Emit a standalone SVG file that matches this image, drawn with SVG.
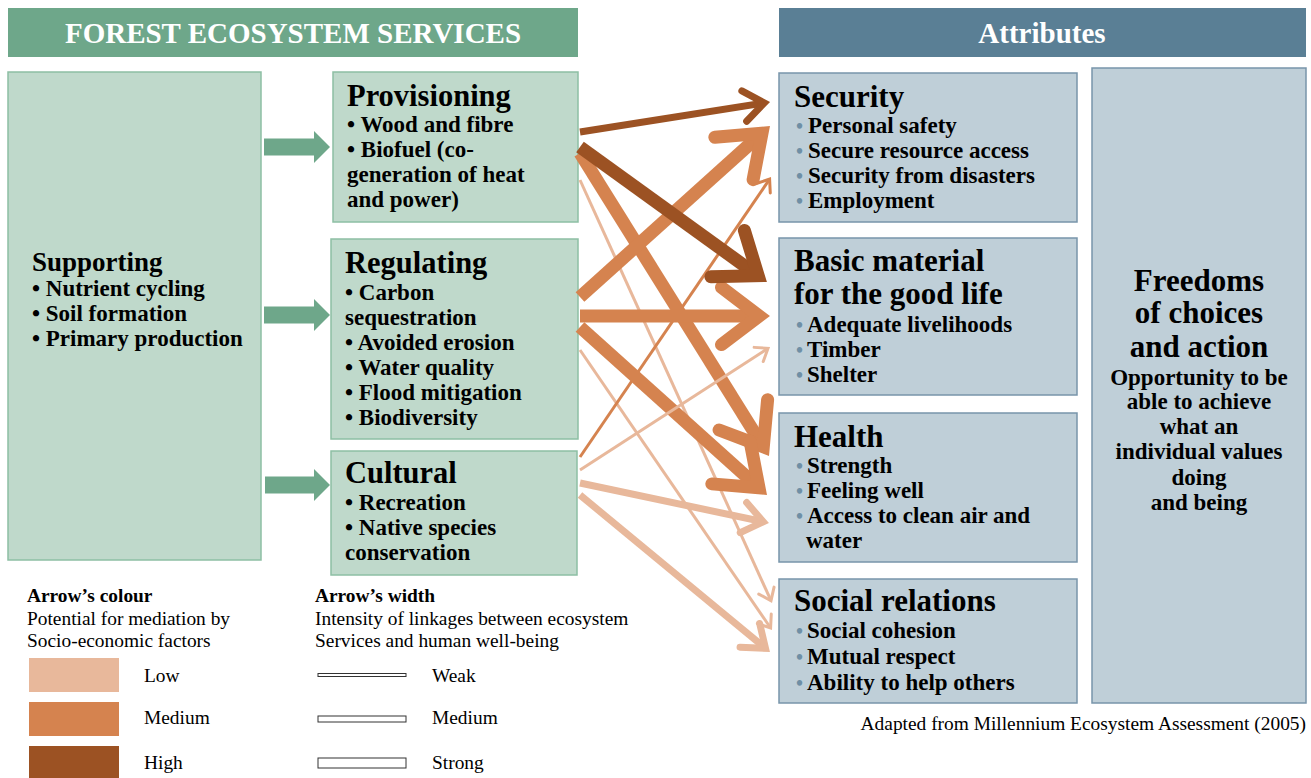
<svg xmlns="http://www.w3.org/2000/svg" width="1311" height="778" viewBox="0 0 1311 778">
<defs>
<style>
text{font-family:"Liberation Serif","Times New Roman",serif;}
.hdr{fill:#ffffff;font-weight:bold;font-size:29px;text-anchor:middle;}
.gbox{fill:#bfd9cb;stroke:#8dbfa4;stroke-width:1.5;}
.bbox{fill:#bfcfd8;stroke:#7895aa;stroke-width:1.5;}
.t30{font-weight:bold;font-size:30.5px;fill:#000;}
.t31{font-weight:bold;font-size:31px;fill:#000;}
.t27{font-weight:bold;font-size:27px;fill:#000;}
.it{font-weight:bold;font-size:23px;fill:#000;}
.bul{font-weight:bold;font-size:20px;fill:#6f8fa5;}
.ctr{text-anchor:middle;}
.leg{font-size:19.4px;fill:#000;}
.legb{font-size:19.4px;font-weight:bold;fill:#000;}
.blk{fill:#6ea78a;}
.ar{fill:none;stroke-linecap:butt;}
.high{stroke:#9c5223;}
.med{stroke:#d5834f;}
.low{stroke:#e8b89b;}
.w1{stroke-width:3;}
.w2{stroke-width:7;}
.w3{stroke-width:13;}
</style>
<marker id="mHigh" markerUnits="strokeWidth" markerWidth="6" markerHeight="6" refX="0" refY="0" orient="auto" overflow="visible">
<path d="M-2.9,-2.2 L0,0 L-2.9,2.2" fill="none" stroke="#9c5223" stroke-width="1" stroke-linecap="round" stroke-linejoin="miter"/>
</marker>
<marker id="mMed" markerUnits="strokeWidth" markerWidth="6" markerHeight="6" refX="0" refY="0" orient="auto" overflow="visible">
<path d="M-2.9,-2.2 L0,0 L-2.9,2.2" fill="none" stroke="#d5834f" stroke-width="1" stroke-linecap="round" stroke-linejoin="miter"/>
</marker>
<marker id="mLow" markerUnits="strokeWidth" markerWidth="6" markerHeight="6" refX="0" refY="0" orient="auto" overflow="visible">
<path d="M-2.9,-2.2 L0,0 L-2.9,2.2" fill="none" stroke="#e8b89b" stroke-width="1" stroke-linecap="round" stroke-linejoin="miter"/>
</marker>
<marker id="mMedThin" markerUnits="strokeWidth" markerWidth="6" markerHeight="6" refX="0" refY="0" orient="auto" overflow="visible">
<path d="M-3.7,-2.8 L0,0 L-3.7,2.8" fill="none" stroke="#d5834f" stroke-width="1" stroke-linecap="round" stroke-linejoin="miter"/>
</marker>
<marker id="mLowThin" markerUnits="strokeWidth" markerWidth="6" markerHeight="6" refX="0" refY="0" orient="auto" overflow="visible">
<path d="M-3.7,-2.8 L0,0 L-3.7,2.8" fill="none" stroke="#e8b89b" stroke-width="1" stroke-linecap="round" stroke-linejoin="miter"/>
</marker>
</defs>

<rect width="1311" height="778" fill="#ffffff"/>

<g id="header-services">
<rect x="8" y="8" width="570" height="49" fill="#6ea78a"/>
<text class="hdr" x="293" y="43">FOREST ECOSYSTEM SERVICES</text>
</g>
<g id="header-attributes">
<rect x="779" y="8" width="527" height="49" fill="#5a7f95"/>
<text class="hdr" x="1042" y="43">Attributes</text>
</g>

<g id="supporting">
<rect class="gbox" x="8" y="72" width="253" height="488"/>
<text class="t27" x="32" y="271">Supporting</text>
<text class="it" x="32" y="296">• Nutrient cycling</text>
<text class="it" x="32" y="321">• Soil formation</text>
<text class="it" x="32" y="346">• Primary production</text>
</g>

<g id="provisioning">
<rect class="gbox" x="333" y="72" width="245" height="150"/>
<text class="t30" x="347" y="106">Provisioning</text>
<text class="it" x="347" y="132">• Wood and fibre</text>
<text class="it" x="347" y="157">• Biofuel (co-</text>
<text class="it" x="347" y="182">generation of heat</text>
<text class="it" x="347" y="207">and power)</text>
</g>

<g id="regulating">
<rect class="gbox" x="331" y="239" width="247" height="200"/>
<text class="t30" x="345" y="273">Regulating</text>
<text class="it" x="345" y="300">• Carbon</text>
<text class="it" x="345" y="325">sequestration</text>
<text class="it" x="345" y="350">• Avoided erosion</text>
<text class="it" x="345" y="375">• Water quality</text>
<text class="it" x="345" y="400">• Flood mitigation</text>
<text class="it" x="345" y="425">• Biodiversity</text>
</g>

<g id="cultural">
<rect class="gbox" x="331" y="451" width="246" height="124"/>
<text class="t30" x="345" y="483">Cultural</text>
<text class="it" x="345" y="510">• Recreation</text>
<text class="it" x="345" y="535">• Native species</text>
<text class="it" x="345" y="560">conservation</text>
</g>

<g id="security">
<rect class="bbox" x="779" y="73" width="298" height="149"/>
<text class="t31" x="794" y="107">Security</text>
<text class="bul" x="796" y="133">•</text><text class="it" x="808" y="133">Personal safety</text>
<text class="bul" x="796" y="158">•</text><text class="it" x="808" y="158">Secure resource access</text>
<text class="bul" x="796" y="183">•</text><text class="it" x="808" y="183">Security from disasters</text>
<text class="bul" x="796" y="208">•</text><text class="it" x="808" y="208">Employment</text>
</g>

<g id="basic-material">
<rect class="bbox" x="779" y="238" width="298" height="157"/>
<text class="t31" x="794" y="271">Basic material</text>
<text class="t31" x="794" y="304">for the good life</text>
<text class="bul" x="796" y="332">•</text><text class="it" x="807" y="332">Adequate livelihoods</text>
<text class="bul" x="796" y="357">•</text><text class="it" x="807" y="357">Timber</text>
<text class="bul" x="796" y="382">•</text><text class="it" x="807" y="382">Shelter</text>
</g>

<g id="health">
<rect class="bbox" x="779" y="413" width="298" height="149"/>
<text class="t31" x="794" y="447">Health</text>
<text class="bul" x="796" y="473">•</text><text class="it" x="807" y="473">Strength</text>
<text class="bul" x="796" y="498">•</text><text class="it" x="807" y="498">Feeling well</text>
<text class="bul" x="796" y="523">•</text><text class="it" x="807" y="523">Access to clean air and</text>
<text class="it" x="806" y="548">water</text>
</g>

<g id="social-relations">
<rect class="bbox" x="779" y="579" width="298" height="124"/>
<text class="t31" x="794" y="611">Social relations</text>
<text class="bul" x="796" y="638">•</text><text class="it" x="807" y="638">Social cohesion</text>
<text class="bul" x="796" y="664">•</text><text class="it" x="807" y="664">Mutual respect</text>
<text class="bul" x="796" y="690">•</text><text class="it" x="807" y="690">Ability to help others</text>
</g>

<g id="freedoms">
<rect class="bbox" x="1092" y="68" width="214" height="635"/>
<text class="t31 ctr" x="1199" y="291">Freedoms</text>
<text class="t31 ctr" x="1199" y="323">of choices</text>
<text class="t31 ctr" x="1199" y="357">and action</text>
<text class="it ctr" x="1199" y="385">Opportunity to be</text>
<text class="it ctr" x="1199" y="409">able to achieve</text>
<text class="it ctr" x="1199" y="434">what an</text>
<text class="it ctr" x="1199" y="459">individual values</text>
<text class="it ctr" x="1199" y="485">doing</text>
<text class="it ctr" x="1199" y="510">and being</text>
</g>

<g id="connectors">
<path class="blk" d="M264,138.5 H314 V131 L330,147 L314,163 V155.5 H264 Z"/>
<path class="blk" d="M264,306.5 H314 V299 L330,315 L314,331 V323.5 H264 Z"/>
<path class="blk" d="M265,476.5 H314 V469 L330,485 L314,501 V493.5 H265 Z"/>

<line class="ar low w1" x1="580" y1="180" x2="771" y2="600.7" marker-end="url(#mLowThin)"/>
<line class="ar low w1" x1="580" y1="350" x2="770.6" y2="628" marker-end="url(#mLowThin)"/>
<line class="ar med w1" x1="580" y1="457" x2="769.6" y2="179.1" marker-end="url(#mMedThin)"/>
<line class="ar low w2" x1="580" y1="483" x2="763.3" y2="521.8" marker-end="url(#mLow)"/>
<line class="ar low w2" x1="580" y1="495" x2="765.5" y2="648.3" marker-end="url(#mLow)"/>
<line class="ar med w3" x1="580" y1="153" x2="763.3" y2="446.8" marker-end="url(#mMed)"/>
<line class="ar med w3" x1="580" y1="327" x2="759" y2="487.8" marker-end="url(#mMed)"/>
<line class="ar low w1" x1="580" y1="470" x2="768" y2="348.4" marker-end="url(#mLowThin)"/>
<line class="ar med w3" x1="580" y1="316" x2="759.2" y2="316" marker-end="url(#mMed)"/>
<line class="ar med w3" x1="580" y1="297" x2="762" y2="133.2" marker-end="url(#mMed)"/>
<line class="ar high w3" x1="580" y1="147" x2="758.2" y2="275.7" marker-end="url(#mHigh)"/>
<line class="ar high w2" x1="580" y1="132" x2="764.3" y2="102.9" marker-end="url(#mHigh)"/>
</g>

<g id="legend">
<text class="legb" x="27" y="602">Arrow’s colour</text>
<text class="leg" x="27" y="625">Potential for mediation by</text>
<text class="leg" x="27" y="647">Socio-economic factors</text>
<rect x="29" y="658" width="90" height="34" fill="#e8b89b"/>
<rect x="29" y="702" width="90" height="34" fill="#d5834f"/>
<rect x="29" y="746" width="90" height="32" fill="#9c5223"/>
<text class="leg" x="144" y="682">Low</text>
<text class="leg" x="144" y="724">Medium</text>
<text class="leg" x="144" y="769">High</text>

<text class="legb" x="315" y="602">Arrow’s width</text>
<text class="leg" x="315" y="625">Intensity of linkages between ecosystem</text>
<text class="leg" x="315" y="647">Services and human well-being</text>
<rect x="318" y="673.5" width="88" height="3" fill="#ffffff" stroke="#333" stroke-width="1"/>
<rect x="318" y="716" width="88" height="6" fill="#ffffff" stroke="#333" stroke-width="1"/>
<rect x="318" y="758" width="88" height="10" fill="#ffffff" stroke="#333" stroke-width="1"/>
<text class="leg" x="432" y="682">Weak</text>
<text class="leg" x="432" y="724">Medium</text>
<text class="leg" x="432" y="769">Strong</text>
</g>

<text class="leg" x="1306" y="730" text-anchor="end">Adapted from Millennium Ecosystem Assessment (2005)</text>
</svg>
